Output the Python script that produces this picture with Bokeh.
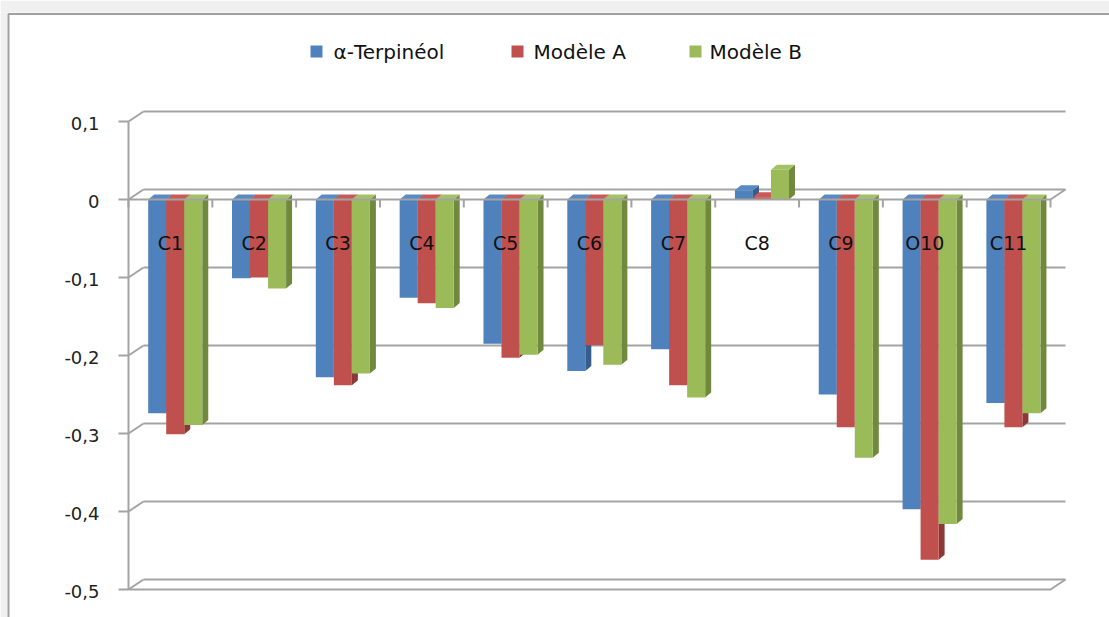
from bokeh.plotting import figure
from bokeh.models import Range1d, ColumnDataSource
from bokeh.embed import file_html
from bokeh.resources import INLINE
from bokeh.core.properties import value

# ---- data -------------------------------------------------------------
categories = ["C1", "C2", "C3", "C4", "C5", "C6", "C7", "C8", "C9", "O10", "C11"]
series_names = ["α-Terpinéol", "Modèle A", "Modèle B"]
terpineol = [-0.274, -0.101, -0.228, -0.126, -0.185, -0.220, -0.192, 0.012, -0.250, -0.397, -0.261]
modele_a = [-0.301, -0.100, -0.238, -0.133, -0.203, -0.187, -0.238, 0.003, -0.292, -0.462, -0.292]
modele_b = [-0.289, -0.114, -0.223, -0.139, -0.199, -0.212, -0.254, 0.038, -0.331, -0.416, -0.274]
y_ticks = [-0.5, -0.4, -0.3, -0.2, -0.1, 0.0, 0.1]
y_tick_labels = ["-0,5", "-0,4", "-0,3", "-0,2", "-0,1", "0", "0,1"]

# ---- page geometry ----------------------------------------------------
W, H = 1109, 617
X0, PX_X = 128, 922 / 11      # pixel of category 0, pixels per category
Y0, PX_Y = 199, 780           # pixel of value 0, pixels per unit


def sx(px):
    return (px - X0) / PX_X


def sy(py):
    return (Y0 - py) / PX_Y


# 3-D look: back wall offset and bar depth, in data units
wall_dx, wall_dy = 15 / PX_X, 10 / PX_Y
bar_dx, bar_dy = 6 / PX_X, 5 / PX_Y
bar_w, bar_start = 0.215, 0.235

front_colors = ["#4F81BD", "#C0504D", "#9BBB59"]
top_colors = ["#5A8AC4", "#C85A57", "#A3C263"]
side_colors = ["#385D8A", "#8C3836", "#71893F"]
grid_color = "#a3a3a3"
n = len(categories)

p = figure(width=W, height=H, x_range=Range1d(sx(0), sx(W)), y_range=Range1d(sy(H), sy(0)),
           x_axis_location=None, y_axis_location=None, toolbar_location=None,
           output_backend="svg", min_border=0, outline_line_color=None,
           background_fill_color="white", border_fill_color="white")
p.grid.visible = False

# window strip and chart frame
p.quad(left=sx(0), right=sx(W), top=sy(0), bottom=sy(12), fill_color="#f0f0f0", line_color=None)
p.quad(left=sx(0), right=sx(7), top=sy(12), bottom=sy(H), fill_color="#f0f0f0", line_color=None)
p.line([sx(8), sx(8), sx(W)], [sy(H), sy(13.5), sy(13.5)], line_color="#a0a0a0", line_width=2)

# back wall gridlines with their side-wall connectors
p.segment(x0=[wall_dx] * len(y_ticks), y0=[t + wall_dy for t in y_ticks],
          x1=[n + wall_dx] * len(y_ticks), y1=[t + wall_dy for t in y_ticks],
          line_color=grid_color, line_width=2)
p.segment(x0=[0] * len(y_ticks), y0=y_ticks,
          x1=[wall_dx] * len(y_ticks), y1=[t + wall_dy for t in y_ticks],
          line_color=grid_color, line_width=2)

# floor front edge and its right corner
y_min = min(y_ticks)
p.line([0, n, n + wall_dx], [y_min, y_min, y_min + wall_dy], line_color=grid_color, line_width=2)

# vertical axis with outward ticks and labels
y_max = max(y_ticks)
p.segment(x0=0, y0=y_min, x1=0, y1=y_max, line_color=grid_color, line_width=2)
p.segment(x0=[sx(118)] * len(y_ticks), y0=y_ticks, x1=[0] * len(y_ticks), y1=y_ticks,
          line_color=grid_color, line_width=2)
p.text(x=[sx(99)] * len(y_ticks), y=[t - 2 / PX_Y for t in y_ticks], text=y_tick_labels,
       text_align="right", text_baseline="middle", text_font=value("DejaVu Sans"),
       text_font_size="18px", text_color="#222222")

# bars: side, top and front faces, series drawn left to right
for k, vals in enumerate([terpineol, modele_a, modele_b]):
    x0 = [i + bar_start + k * bar_w for i in range(n)]
    x1 = [x + bar_w for x in x0]
    tops = [max(v, 0) for v in vals]
    bots = [min(v, 0) for v in vals]
    side = ColumnDataSource(dict(
        xs=[[b, b + bar_dx, b + bar_dx, b] for b in x1],
        ys=[[0, bar_dy, v + bar_dy, v] for v in vals]))
    top = ColumnDataSource(dict(
        xs=[[a, b, b + bar_dx, a + bar_dx] for a, b in zip(x0, x1)],
        ys=[[t, t, t + bar_dy, t + bar_dy] for t in tops]))
    p.patches("xs", "ys", source=side, fill_color=side_colors[k], line_color=None)
    p.patches("xs", "ys", source=top, fill_color=top_colors[k], line_color=None)
    p.quad(left=x0, right=x1, top=tops, bottom=bots, fill_color=front_colors[k], line_color=None)

# category axis along zero with downward ticks
p.line([0, n, n + wall_dx], [0, 0, wall_dy], line_color=grid_color, line_width=2)
p.segment(x0=list(range(n + 1)), y0=[0] * (n + 1), x1=list(range(n + 1)),
          y1=[-8 / PX_Y] * (n + 1), line_color=grid_color, line_width=2)
p.text(x=[i + 0.5 for i in range(n)], y=[sy(242)] * n, text=categories,
       text_align="center", text_baseline="middle", text_font=value("DejaVu Sans"),
       text_font_size="19px", text_color="#111111")

# legend
leg_square_left = [310, 511, 689]
leg_text_left = [333, 533, 709]
p.quad(left=[sx(v) for v in leg_square_left], right=[sx(v + 12) for v in leg_square_left],
       top=[sy(45)] * 3, bottom=[sy(57)] * 3, fill_color=front_colors, line_color=None)
p.text(x=[sx(v) for v in leg_text_left], y=[sy(51)] * 3, text=series_names,
       text_align="left", text_baseline="middle", text_font=value("DejaVu Sans"),
       text_font_size="20px", text_color="#111111")

open("out.html", "w").write(file_html(p, INLINE))
